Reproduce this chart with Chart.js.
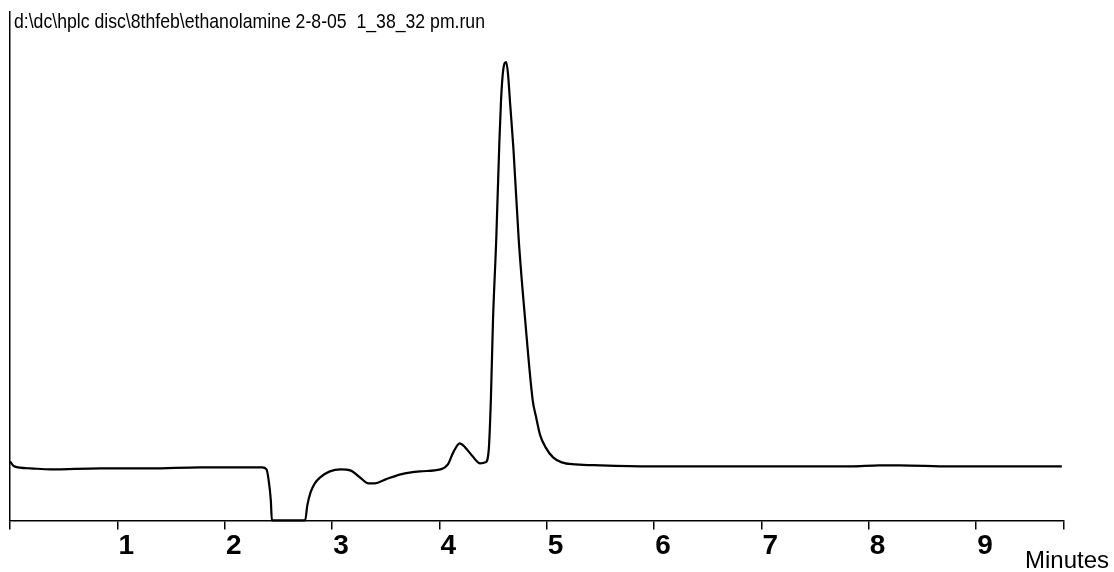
<!DOCTYPE html>
<html lang="en">
<head>
  <meta charset="UTF-8" />
  <title>ethanolamine 2-8-05 chromatogram</title>
  <script src="https://cdn.jsdelivr.net/npm/chart.js"></script>
  <style>
    html, body {
      margin: 0;
      padding: 0;
      background: #fff;
    }
    .chart-container {
      width: 1114px;
      height: 572px;
    }
  </style>
</head>
<body>

  <div class="chart-container">
    <canvas id="runChart"></canvas>
  </div>

  <script>
    const runTitle = 'd:\\dc\\hplc disc\\8thfeb\\ethanolamine 2-8-05  1_38_32 pm.run';
    const axisLabel = 'Minutes';

    // retention time (min) and detector response
    const timeMin = [0.00, 0.04, 0.19, 0.38, 0.84, 1.31, 1.77, 2.15, 2.35, 2.39, 2.41, 2.43, 2.44,
      2.75, 2.77, 2.80, 2.84, 2.89, 2.98, 3.08, 3.17, 3.26, 3.34, 3.40, 3.50, 3.64, 3.82, 4.01,
      4.08, 4.13, 4.19, 4.24, 4.31, 4.38, 4.43, 4.46, 4.48, 4.50, 4.53, 4.56, 4.575, 4.595, 4.623,
      4.64, 4.66, 4.69, 4.74, 4.80, 4.87, 4.90, 4.94, 4.99, 5.06, 5.14, 5.27, 5.50, 5.96, 6.43,
      6.89, 7.36, 7.83, 8.10, 8.29, 8.76, 9.22, 9.80];
    const response = [59, 54, 52, 51, 52, 52, 53, 53, 53, 51, 40, 20, 0,
      0, 15, 28, 37, 43, 49, 51, 50, 43, 37, 37, 41, 46, 49, 51,
      56, 68, 77, 73, 64, 57, 58, 70, 120, 200, 280, 380, 420, 450, 458,
      446, 416, 372, 280, 200, 120, 104, 85, 73, 63, 58, 56, 55, 54, 54,
      54, 54, 54, 55, 55, 54, 54, 54];

    const tickValues = [0, 1, 2, 3, 4, 5, 6, 7, 8, 9, 9.82];
    const tickLabels = ['', '1', '2', '3', '4', '5', '6', '7', '8', '9', ''];

    const textPlugin = {
      id: 'runText',
      afterDraw(chart) {
        const c = chart.ctx;
        const area = chart.chartArea;
        c.save();
        c.fillStyle = '#000';
        c.textBaseline = 'alphabetic';
        c.textAlign = 'left';
        // the run name is printed narrow on the original
        c.font = '21px "Liberation Sans", Arial, sans-serif';
        c.fillText(runTitle, area.left + 4, area.top + 16, 471);
        c.font = '24px "Liberation Sans", Arial, sans-serif';
        c.fillText(axisLabel, area.right - 39, chart.height - 4);
        c.restore();
      }
    };

    const ctx = document.getElementById('runChart').getContext('2d');

    new Chart(ctx, {
      type: 'line',
      data: {
        datasets: [{
          data: timeMin.map((t, i) => ({ x: t, y: response[i] })),
          borderColor: '#000',
          borderWidth: 2.2,
          pointRadius: 0,
          fill: false,
          cubicInterpolationMode: 'monotone',
          clip: false
        }]
      },
      options: {
        responsive: true,
        maintainAspectRatio: false,
        animation: false,
        layout: {
          padding: { left: 10, right: 50, top: 12, bottom: 9 }
        },
        plugins: {
          legend: { display: false },
          tooltip: { enabled: false }
        },
        scales: {
          x: {
            type: 'linear',
            min: 0,
            max: 9.82,
            afterBuildTicks: (axis) => {
              axis.ticks = tickValues.map(v => ({ value: v }));
            },
            grid: {
              display: true,
              drawOnChartArea: false,
              drawTicks: true,
              tickLength: 9,
              color: '#000',
              lineWidth: 1.5
            },
            border: { display: true, color: '#000', width: 1.5 },
            ticks: {
              autoSkip: false,
              maxRotation: 0,
              labelOffset: 9,
              padding: 0,
              color: '#000',
              font: { family: '"Liberation Sans", Arial, sans-serif', size: 28, weight: 'bold' },
              callback: (value, index) => tickLabels[index]
            }
          },
          y: {
            min: 0,
            max: 508,
            afterFit: (axis) => { axis.width = 0; },
            grid: { display: false },
            border: { display: true, color: '#000', width: 1.5 },
            ticks: { display: false }
          }
        }
      },
      plugins: [textPlugin]
    });
  </script>

</body>
</html>
